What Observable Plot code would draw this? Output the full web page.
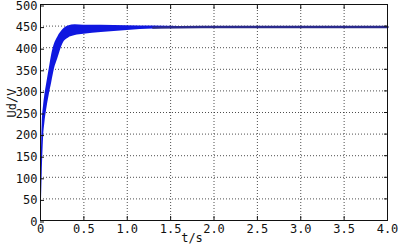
<!DOCTYPE html>
<html>
<head>
<meta charset="utf-8">
<script src="https://cdn.jsdelivr.net/npm/d3@7"></script>
<script src="https://cdn.jsdelivr.net/npm/@observablehq/plot@0.6"></script>
<style>
  html, body { margin: 0; padding: 0; background: #fff; }
  #chart svg { display: block; }
</style>
</head>
<body>
<div id="chart"></div>
<script>
// Time (s) of envelope samples
const times = [0, 0.01, 0.02, 0.035, 0.05, 0.07, 0.1, 0.13, 0.16, 0.2, 0.26, 0.32, 0.4, 0.5, 0.7, 1.0, 1.3, 1.6, 2.0, 3.0, 4.0];
// Upper envelope of Ud (V)
const upper = [0, 150, 225, 265, 290, 315, 350, 385, 408, 425, 442, 450, 453, 452, 452, 451, 450, 449, 449, 449, 449];
// Lower envelope of Ud (V)
const lower = [0, 40, 110, 190, 225, 255, 290, 320, 350, 375, 410, 422, 428, 431, 435, 440, 443, 446, 447, 447, 447];
const xTicks = [0, 0.5, 1.0, 1.5, 2.0, 2.5, 3.0, 3.5, 4.0];
const xTickLabels = ["0", "0.5", "1.0", "1.5", "2.0", "2.5", "3.0", "3.5", "4.0"];
const yTicks = [0, 50, 100, 150, 200, 250, 300, 350, 400, 450, 500];

const rows = times.map((t, i) => ({t, hi: upper[i], lo: lower[i], mid: (upper[i] + lower[i]) / 2}));
const settled = rows.filter(d => d.t >= 1.3);

const chart = Plot.plot({
  width: 400,
  height: 247,
  marginLeft: 40,
  marginRight: 13,
  marginTop: 4,
  marginBottom: 27,
  style: {fontFamily: "DejaVu Sans Mono", fontSize: "12px", color: "#111", background: "#fff"},
  x: {domain: [0, 4], ticks: xTicks},
  y: {domain: [0, 500], ticks: yTicks},
  marks: [
    Plot.gridX(xTicks, {stroke: "#222", strokeOpacity: 0.8, strokeDasharray: "1,2"}),
    Plot.gridY(yTicks, {stroke: "#222", strokeOpacity: 0.8, strokeDasharray: "1,2"}),
    Plot.areaY(rows, {x: "t", y1: "lo", y2: "hi", fill: "#0f17e0", curve: "monotone-x"}),
    Plot.lineY(settled, {x: "t", y: "mid", stroke: "#2a2a8c", strokeWidth: 2.4, curve: "monotone-x"}),
    Plot.frame({stroke: "#111", strokeWidth: 1}),
    Plot.axisX({ticks: xTicks, tickFormat: (d, i) => xTickLabels[i], tickSize: -4, tickPadding: 8, label: null, stroke: "#111"}),
    Plot.axisX({anchor: "top", ticks: xTicks, tickFormat: () => "", tickSize: -4, label: null, stroke: "#111"}),
    Plot.axisY({ticks: yTicks, tickSize: -4, tickPadding: 7, label: null, stroke: "#111", dy: 1.5}),
    Plot.axisY({anchor: "right", ticks: yTicks, tickFormat: () => "", tickSize: -4, label: null, stroke: "#111"}),
    Plot.text(["Ud/V"], {frameAnchor: "left", dx: -28, dy: 5, rotate: -90, fontSize: 12}),
    Plot.text(["t/s"], {frameAnchor: "bottom", dx: -22, dy: 21, fontSize: 12})
  ]
});
document.getElementById("chart").append(chart);
</script>
</body>
</html>
